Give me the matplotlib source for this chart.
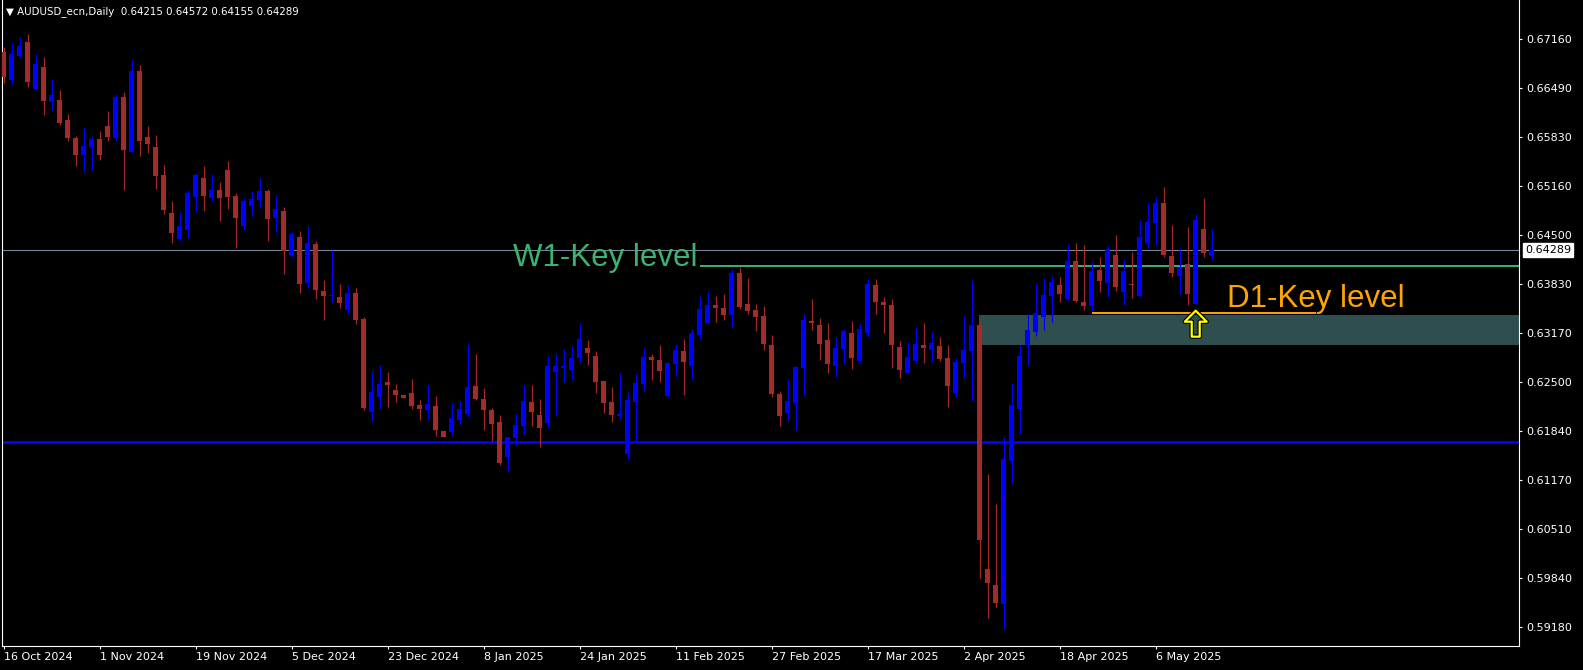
"""AUDUSD daily candles (MT4 style) with W1 / D1 key levels."""

import matplotlib

matplotlib.use("Agg")
import matplotlib.pyplot as plt  # noqa: E402
import matplotlib.transforms as mtransforms  # noqa: E402
import matplotlib.patheffects as pe  # noqa: E402
from matplotlib.patches import Rectangle  # noqa: E402
from matplotlib.path import Path  # noqa: E402
import numpy as np  # noqa: E402
import pandas as pd  # noqa: E402

SYMBOL = "AUDUSD_ecn,Daily"
DATES = pd.bdate_range("2024-10-16", "2025-05-15")  # one bar per weekday

OPEN = [
    0.66979, 0.66603, 0.66928, 0.67114, 0.66477, 0.66775, 0.66304, 0.66328, 0.66056, 0.65812,
    0.65586, 0.65686, 0.65799, 0.65975, 0.65816, 0.66368, 0.65626, 0.66721, 0.65826, 0.65690,
    0.65310, 0.64795, 0.64442, 0.64568, 0.65012, 0.65269, 0.65002, 0.65107, 0.65378, 0.65025,
    0.64622, 0.64894, 0.64975, 0.65093, 0.64731, 0.64822, 0.64215, 0.64469, 0.63849, 0.64374,
    0.63737, 0.63673, 0.63655, 0.63483, 0.63710, 0.63357, 0.62099, 0.62299, 0.62502, 0.62394,
    0.62326, 0.62353, 0.62190, 0.62126, 0.62177, 0.61838, 0.61828, 0.61991, 0.62072, 0.62448,
    0.62272, 0.62122, 0.61960, 0.61490, 0.61747, 0.61909, 0.62231, 0.62055, 0.61950, 0.62642,
    0.62696, 0.62669, 0.62832, 0.62963, 0.62855, 0.62516, 0.62231, 0.62045, 0.61530, 0.62235,
    0.62480, 0.62841, 0.62801, 0.62316, 0.62750, 0.62923, 0.62723, 0.63144, 0.63307, 0.63547,
    0.63506, 0.63415, 0.63981, 0.63560, 0.63479, 0.63398, 0.63004, 0.62339, 0.62082, 0.62217,
    0.62696, 0.63330, 0.63275, 0.63072, 0.62723, 0.62950, 0.63167, 0.62791, 0.63171, 0.63818,
    0.63587, 0.63547, 0.62977, 0.62628, 0.62791, 0.63004, 0.62940, 0.62990, 0.62828, 0.62357,
    0.62760, 0.62927, 0.63275, 0.59966, 0.59749, 0.59495, 0.61435, 0.62140, 0.63008, 0.63185,
    0.63388, 0.63673, 0.63818, 0.63632, 0.64144, 0.63587, 0.63537, 0.64021, 0.63849, 0.64225,
    0.63727, 0.63832, 0.63673, 0.64392, 0.64663, 0.64930, 0.64211, 0.63944, 0.64103, 0.63564,
    0.64578, 0.64215,
]
HIGH = [
    0.67046, 0.67097, 0.67178, 0.67223, 0.66952, 0.66911, 0.66612, 0.66463, 0.66138, 0.65839,
    0.65961, 0.65839, 0.65907, 0.66178, 0.66409, 0.66436, 0.66870, 0.66802, 0.65975, 0.65853,
    0.65446, 0.64957, 0.64808, 0.65107, 0.65337, 0.65432, 0.65324, 0.65215, 0.65500, 0.65066,
    0.64998, 0.65093, 0.65269, 0.65120, 0.65039, 0.64876, 0.64537, 0.64551, 0.64618, 0.64415,
    0.63886, 0.64293, 0.63832, 0.63818, 0.63777, 0.63384, 0.62651, 0.62733, 0.62638, 0.62479,
    0.62326, 0.62543, 0.62258, 0.62462, 0.62312, 0.61838, 0.62217, 0.62244, 0.63018, 0.62882,
    0.62421, 0.62150, 0.62055, 0.61756, 0.62068, 0.62462, 0.62462, 0.62272, 0.62855, 0.62882,
    0.62950, 0.62990, 0.63303, 0.63072, 0.62923, 0.62516, 0.62434, 0.62624, 0.62367, 0.62611,
    0.62963, 0.62882, 0.63004, 0.62760, 0.63018, 0.63086, 0.63221, 0.63669, 0.63737, 0.63669,
    0.63696, 0.64035, 0.64062, 0.63913, 0.63560, 0.63533, 0.63140, 0.62380, 0.62543, 0.62719,
    0.63425, 0.63628, 0.63370, 0.63303, 0.63113, 0.63221, 0.63330, 0.63303, 0.63899, 0.63899,
    0.63655, 0.63628, 0.63058, 0.63045, 0.63248, 0.63303, 0.63180, 0.63113, 0.63004, 0.62828,
    0.63398, 0.63886, 0.63316, 0.61254, 0.60847, 0.61756, 0.62489, 0.63004, 0.63425, 0.63832,
    0.63913, 0.63940, 0.63927, 0.64374, 0.64388, 0.64361, 0.64130, 0.64198, 0.64347, 0.64496,
    0.64171, 0.64266, 0.64700, 0.64930, 0.65012, 0.65147, 0.64632, 0.64320, 0.64605, 0.64781,
    0.64998, 0.64572,
]
LOW = [
    0.66562, 0.66549, 0.66897, 0.66508, 0.66477, 0.66128, 0.66196, 0.65992, 0.65775, 0.65436,
    0.65355, 0.65382, 0.65518, 0.65775, 0.65775, 0.65111, 0.65613, 0.65572, 0.65613, 0.65124,
    0.64781, 0.64392, 0.64419, 0.64460, 0.64812, 0.64826, 0.64962, 0.64690, 0.64853, 0.64324,
    0.64568, 0.64758, 0.64867, 0.64419, 0.64541, 0.63971, 0.64202, 0.63714, 0.63781, 0.63632,
    0.63347, 0.63592, 0.63510, 0.63429, 0.63293, 0.62127, 0.61977, 0.62140, 0.62167, 0.62235,
    0.62289, 0.62140, 0.61991, 0.62004, 0.61774, 0.61760, 0.61787, 0.61936, 0.62031, 0.62262,
    0.61855, 0.61706, 0.61380, 0.61295, 0.61648, 0.61801, 0.61909, 0.61625, 0.61882, 0.62055,
    0.62506, 0.62533, 0.62764, 0.62737, 0.62357, 0.62086, 0.61964, 0.62004, 0.61448, 0.61692,
    0.62384, 0.62533, 0.62506, 0.62303, 0.62588, 0.62330, 0.62533, 0.63090, 0.63307, 0.63320,
    0.63347, 0.63252, 0.63497, 0.63429, 0.63198, 0.62940, 0.62303, 0.61909, 0.61977, 0.61855,
    0.62316, 0.63212, 0.62805, 0.62628, 0.62574, 0.62750, 0.62683, 0.62764, 0.63117, 0.63429,
    0.63171, 0.62696, 0.62561, 0.62628, 0.62764, 0.62764, 0.62778, 0.62791, 0.62167, 0.62303,
    0.62561, 0.62249, 0.59848, 0.59305, 0.59454, 0.59148, 0.61136, 0.61801, 0.62737, 0.63130,
    0.63212, 0.63320, 0.63592, 0.63619, 0.63592, 0.63483, 0.63442, 0.63727, 0.63659, 0.63741,
    0.63551, 0.63646, 0.63659, 0.64324, 0.64365, 0.64202, 0.63930, 0.63700, 0.63551, 0.63564,
    0.64202, 0.64155,
]
CLOSE = [
    0.66644, 0.66952, 0.67060, 0.66576, 0.66816, 0.66318, 0.66395, 0.66020, 0.65816, 0.65586,
    0.65704, 0.65799, 0.65586, 0.65830, 0.66368, 0.65653, 0.66721, 0.65775, 0.65735, 0.65301,
    0.64835, 0.64527, 0.64618, 0.65066, 0.65310, 0.65029, 0.65107, 0.65002, 0.65016, 0.64731,
    0.64957, 0.64985, 0.65093, 0.64717, 0.64849, 0.64283, 0.64510, 0.63836, 0.64388, 0.63754,
    0.63673, 0.63682, 0.63578, 0.63710, 0.63347, 0.62154, 0.62367, 0.62475, 0.62466, 0.62330,
    0.62289, 0.62181, 0.62140, 0.62204, 0.61855, 0.61760, 0.62014, 0.62136, 0.62434, 0.62272,
    0.62126, 0.61936, 0.61408, 0.61756, 0.61919, 0.62244, 0.62099, 0.61882, 0.62719, 0.62719,
    0.62719, 0.62828, 0.63086, 0.62900, 0.62506, 0.62221, 0.62059, 0.62068, 0.62258, 0.62489,
    0.62841, 0.62805, 0.62655, 0.62760, 0.62936, 0.62778, 0.63167, 0.63492, 0.63547, 0.63510,
    0.63415, 0.63981, 0.63524, 0.63469, 0.63388, 0.63022, 0.62344, 0.62045, 0.62244, 0.62706,
    0.63343, 0.63303, 0.63022, 0.62750, 0.62963, 0.63194, 0.62832, 0.63221, 0.63832, 0.63592,
    0.63551, 0.63008, 0.62669, 0.62841, 0.63018, 0.62967, 0.63031, 0.62818, 0.62452, 0.62773,
    0.62936, 0.63275, 0.60363, 0.59780, 0.59508, 0.61458, 0.62190, 0.62855, 0.63208, 0.63438,
    0.63682, 0.63859, 0.63700, 0.64144, 0.63605, 0.63537, 0.64008, 0.63876, 0.64306, 0.63795,
    0.64008, 0.63822, 0.64469, 0.64673, 0.64930, 0.64229, 0.63985, 0.64062, 0.63700, 0.64700,
    0.64256, 0.64289,
]

# price scale labels and date labels as printed by the terminal
Y_TICKS = [0.67160, 0.66490, 0.65830, 0.65160, 0.64500, 0.63830, 0.63170,
           0.62500, 0.61840, 0.61170, 0.60510, 0.59840, 0.59180]
X_TICK_LABELS = ["16 Oct 2024", "1 Nov 2024", "19 Nov 2024", "5 Dec 2024",
                 "23 Dec 2024", "8 Jan 2025", "24 Jan 2025", "11 Feb 2025",
                 "27 Feb 2025", "17 Mar 2025", "2 Apr 2025", "18 Apr 2025",
                 "6 May 2025"]

# drawn objects
BID = CLOSE[-1]
W1_LEVEL = 0.64078
W1_START = 87          # bar index where the weekly level line begins
SUPPORT_LEVEL = 0.61684
ZONE_LOW, ZONE_HIGH = 0.63004, 0.63411
ZONE_START = 121.9
D1_LEVEL = 0.63442
D1_START, D1_END = 136, 164
ARROW_BAR, ARROW_PRICE = 149, 0.63293
D1_TEXT_BAR, D1_TEXT_PRICE = 152.9, 0.63520

BULL = "#0000FF"
BEAR = "#A52A2A"
GREEN = "#3CB371"
ORANGE = "#FFA500"
ZONE = "#2F4F4F"
BIDGRAY = "#778899"

W, H = 1583, 670
fig = plt.figure(figsize=(W / 100, H / 100), dpi=100, facecolor="black")
ax = fig.add_axes([2 / W, 24 / H, 1517 / W, 646 / H])
ax.set_facecolor("black")

o, h, l, c = (np.array(a) for a in (OPEN, HIGH, LOW, CLOSE))
x = np.arange(len(DATES))
cols = np.where(c >= o, BULL, BEAR)

ax.vlines(x, l, h, colors=cols, lw=0.9, zorder=4)
body = np.maximum(np.abs(c - o), 0.00013)
ax.bar(x, body, width=0.65, bottom=np.minimum(o, c), color=cols, lw=0, zorder=5)

xmin, xmax = -0.2125, 189.41
ax.set_xlim(xmin, xmax)
ax.set_ylim(0.58921, 0.67684)

# key levels and zone
ax.add_patch(Rectangle((ZONE_START, ZONE_LOW), xmax - ZONE_START,
                       ZONE_HIGH - ZONE_LOW, color=ZONE, lw=0, zorder=1))
ax.axhline(BID, color=BIDGRAY, lw=0.8, zorder=2)
ax.axhline(SUPPORT_LEVEL, color=BULL, lw=2.0, zorder=2)
ax.hlines(W1_LEVEL, W1_START, xmax, color=GREEN, lw=1.4, zorder=3)
ax.hlines(D1_LEVEL, D1_START, D1_END, color=ORANGE, lw=1.4, zorder=6)

ax.text(W1_START - 0.3, W1_LEVEL, "W1-Key level", color=GREEN, fontsize=22.5,
        family="Liberation Sans", ha="right", va="baseline", zorder=6)
ax.text(D1_TEXT_BAR, D1_TEXT_PRICE, "D1-Key level", color=ORANGE, fontsize=22.5,
        family="Liberation Sans", ha="left", va="baseline", zorder=6)

# hollow up arrow (MT4 wingdings style)
arrow = Path([(0, 13), (11, 2), (4, 2), (4, -13), (-4, -13), (-4, 2), (-11, 2), (0, 13)],
             closed=True)
ax.plot([ARROW_BAR], [ARROW_PRICE], marker=arrow, ms=18.7, mfc="none",
        mec="#FFFF00", mew=1.6, zorder=7,
        path_effects=[pe.Stroke(linewidth=3.2, foreground="black"), pe.Normal()])

# axes styling
for s in ("left", "right", "bottom"):
    ax.spines[s].set_color("white")
    ax.spines[s].set_linewidth(0.8)
ax.spines["top"].set_visible(False)

ax.yaxis.tick_right()
ax.set_yticks(Y_TICKS)
ax.set_yticklabels([f"{v:.5f}" for v in Y_TICKS])
ax.set_xticks(np.arange(0, 12 * len(X_TICK_LABELS), 12))
ax.set_xticklabels(X_TICK_LABELS, ha="left")
ax.tick_params(colors="white", labelcolor="white", labelsize=8, width=0.8,
               length=2.5, direction="out")
ax.tick_params(axis="y", pad=3)
ax.tick_params(axis="x", pad=2)

# current price tag on the scale
trans = mtransforms.blended_transform_factory(ax.transAxes, ax.transData)
ax.text(1 + 6 / 1517, BID, f"{BID:.5f}", transform=trans, ha="left", va="center",
        color="black", fontsize=8, zorder=8,
        bbox=dict(boxstyle="square,pad=0.2", fc="white", ec="white"))

fig.text(6 / W, 1 - 12 / H,
         f"\u25BC {SYMBOL}  {OPEN[-1]:.5f} {HIGH[-1]:.5f} {LOW[-1]:.5f} {CLOSE[-1]:.5f}",
         color="white", fontsize=7.4, va="center", ha="left")

fig.savefig("out.png", dpi=100, facecolor="black")
